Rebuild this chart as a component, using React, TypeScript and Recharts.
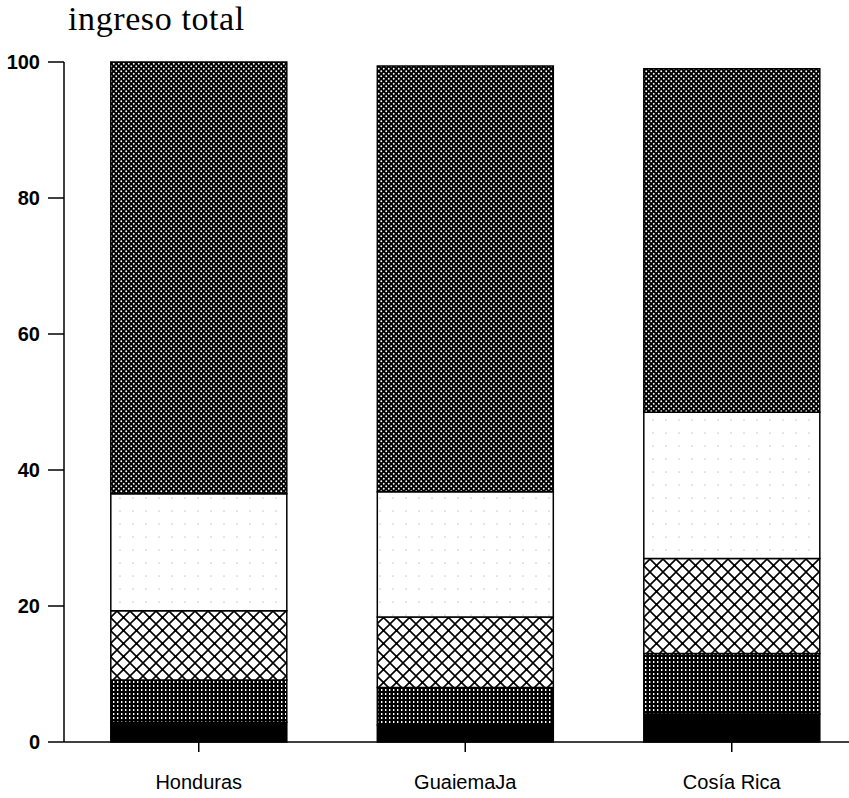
import { Bar, BarChart, XAxis, YAxis } from 'recharts';

// Income share by bracket, stacked per country
const countries = ['Honduras', 'GuaiemaJa', 'Cosía Rica'];
const lowest = [2.9, 2.5, 4.1];
const second = [6.2, 5.5, 8.9];
const third = [10.2, 10.4, 14.0];
const fourth = [17.2, 18.4, 21.5];
const top = [63.5, 62.6, 50.5];
const yTicks = [0, 20, 40, 60, 80, 100];

const data = countries.map((name, i) => ({
  name,
  s1: lowest[i],
  s2: second[i],
  s3: third[i],
  s4: fourth[i],
  s5: top[i],
}));

// fills for each stacked segment, bottom to top
const FILLS = ['#000', 'url(#pGrid)', 'url(#pCross)', 'url(#pLight)', 'url(#pDark)'];

function Patterns() {
  return (
    <svg width={0} height={0} style={{ position: 'absolute' }}>
      <defs>
        <pattern id="pGrid" width={4} height={4} patternUnits="userSpaceOnUse">
          <rect width={4} height={4} fill="#000" />
          <rect x={1} y={1} width={1.4} height={2} fill="#fff" />
        </pattern>
        <pattern id="pCross" width={13} height={13} patternUnits="userSpaceOnUse">
          <rect width={13} height={13} fill="#fff" />
          <path d="M0,0 L13,13 M13,0 L0,13" stroke="#000" strokeWidth={1.6} />
          <circle cx={6.5} cy={6.5} r={1.5} fill="#000" />
        </pattern>
        <pattern id="pLight" width={13} height={13} patternUnits="userSpaceOnUse">
          <rect width={13} height={13} fill="#fff" />
          <circle cx={3} cy={4} r={0.5} fill="#777" />
        </pattern>
        <pattern id="pDark" width={5} height={5} patternUnits="userSpaceOnUse">
          <rect width={5} height={5} fill="#000" />
          <circle cx={1.25} cy={1.25} r={0.95} fill="#fff" />
          <circle cx={3.75} cy={3.75} r={0.95} fill="#fff" />
        </pattern>
      </defs>
    </svg>
  );
}

export default function App() {
  return (
    <div style={{ position: 'absolute', left: 0, top: 0, width: 849, height: 798, overflow: 'hidden', background: '#fff' }}>
      <Patterns />
      <div
        style={{
          position: 'absolute',
          left: 68,
          top: 2,
          fontFamily: '"Liberation Serif", serif',
          fontSize: 34,
          lineHeight: '34px',
          letterSpacing: 0.6,
          color: '#000',
        }}
      >
        ingreso total
      </div>
      <BarChart
        width={865}
        height={798}
        data={data}
        margin={{ top: 62, right: 0, bottom: 0, left: 0 }}
        barCategoryGap="17%"
      >
        <XAxis
          dataKey="name"
          height={56}
          padding={{ left: 1.5, right: 0 }}
          axisLine={{ stroke: '#000', strokeWidth: 1.5 }}
          tickLine={{ stroke: '#000', strokeWidth: 1.5 }}
          tickSize={10}
          tickMargin={23}
          tick={{ fill: '#000', fontSize: 20, fontFamily: '"Liberation Sans", Arial, sans-serif' }}
        />
        <YAxis
          width={64}
          domain={[0, 100]}
          ticks={yTicks}
          interval={0}
          axisLine={{ stroke: '#000', strokeWidth: 1.5 }}
          tickLine={{ stroke: '#000', strokeWidth: 1.5 }}
          tickSize={16}
          tickMargin={8}
          tick={{ fill: '#000', fontSize: 20, fontWeight: 'bold', fontFamily: '"Liberation Sans", Arial, sans-serif' }}
        />
        {['s1', 's2', 's3', 's4', 's5'].map((key, i) => (
          <Bar
            key={key}
            dataKey={key}
            stackId="a"
            fill={FILLS[i]}
            stroke="#000"
            strokeWidth={1.5}
            isAnimationActive={false}
          />
        ))}
      </BarChart>
    </div>
  );
}
